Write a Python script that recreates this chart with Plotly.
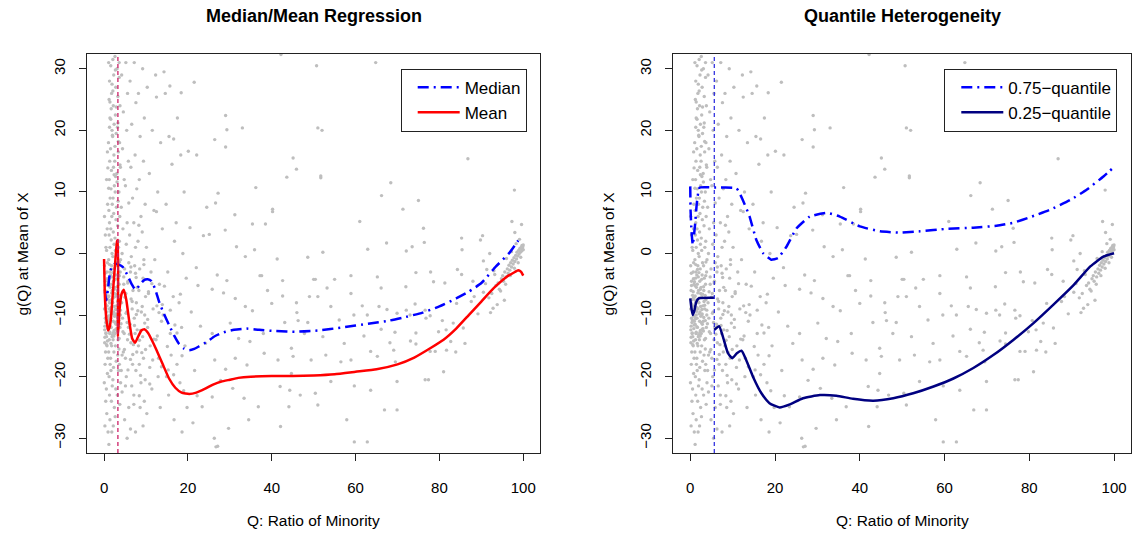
import plotly.graph_objects as go

# ---------------- data ----------------
# dense part of the point cloud near small Q (bands of x)
band_x_0 = [0.1,0.3,0.2,0.4,0.1,0.3,0.2,0.45,0.15,0.35,0.25,0.05,0.4,0.2,0.3,0.1,0.45,0.25,0.35,0.15]
band_y_0 = [-2,-4.5,-6,-7.5,-9,-10.5,-11.8,-13,-14.5,-16,-18,-21,-24,-28,3,6,1,-3.2,-8.2,-12.4]
band_x_1 = [0.6,0.8,0.7,0.9,0.55,0.75,0.65,0.95,0.85,0.6,0.7,0.9,0.8,0.55,0.65,0.95,0.75,0.85,0.6,0.7,0.9]
band_y_1 = [0.5,-1.5,-3,-5,-6.8,-8.5,-9.5,-11,-12.2,-13.5,-15,-17,-19.5,-22,-26,-29,4,8,12,-7.3,-10.2]
band_x_2 = [1.1,1.3,1.2,1.4,1.05,1.35,1.25,1.45,1.15,1.3,1.2,1.4,1.1,1.35,1.25,1.45,1.05,1.3,1.2,1.4,1.15,1.35,1.25,1.1,1.45,1.2,1.3,1.4,1.15]
band_y_2 = [31,28,25,22,18,15,12,9,7,5,3,1,-1,-3,-4,-5.5,-7,-8,-9,-10,-11.5,-13,-14,-16,-18,-20,-23,-27,-31]
band_x_3 = [1.6,1.8,1.7,1.9,1.55,1.75,1.65,1.95,1.85,1.6,1.7,1.9,1.8,1.55,1.65,1.95,1.75,1.85,1.6,1.7,1.9,1.8,1.55,1.65,1.95,1.75,1.85]
band_y_3 = [30.5,26,23.5,20,17,13.5,10.5,8,6,4,2.2,0,-2,-3.5,-5,-6,-7.5,-9,-10.5,-12,-13.5,-15,-17,-19,-21.5,-24,-29]
band_x_4 = [2.1,2.3,2.2,2.4,2.05,2.35,2.25,2.45,2.15,2.3,2.2,2.4,2.1,2.35,2.25,2.45,2.05,2.3,2.2,2.4,2.15,2.35,2.25,2.1,2.45,2.2]
band_y_4 = [31.5,29,24,21,19,16,14,11,9,6.5,3.5,1.5,-0.5,-2.5,-4.5,-6.5,-8,-9.5,-11,-12.5,-14,-16,-18.5,-20.5,-25,-28]
band_x_5 = [2.6,2.8,2.7,2.9,2.55,2.75,2.65,2.95,2.85,2.6,2.7,2.9,2.8,2.55,2.65,2.95,2.75,2.85,2.6,2.7,2.9,2.8,2.65]
band_y_5 = [32,27,22.5,19.5,15,12.5,10,7.5,5.5,2.5,0.5,-1.5,-3.5,-5.5,-7,-8.5,-10,-11.5,-13,-15,-17.5,-22,-26.5]
band_x_6 = [3.1,3.3,3.2,3.4,3.05,3.35,3.25,3.45,3.15,3.3,3.2,3.4,3.1,3.35,3.25,3.45,3.15]
band_y_6 = [30,25.5,20.5,16.5,13,8.5,4.5,1,-2,-4,-6,-9,-11,-14,-16.5,-19,-23]
band_x_7 = [3.6,3.8,3.7,3.9,3.55,3.75,3.65,3.95,3.85,3.6,3.7,3.9,3.8,3.55,3.65,3.95,3.75]
band_y_7 = [31,24,18,14,10,6,2,-1,-3,-5,-7.5,-10,-12,-15.5,-18,-21,-24.5]
band_x_8 = [4.2,4.6,4.4,4.8,4.1,4.5,4.3,4.9,4.7,4.2,4.4,4.8,4.6,4.1,4.3,4.9]
band_y_8 = [29,23,17,12,7.5,4,0,-2.5,-5,-8,-10.5,-13,-16,-19,-22.5,-27]
band_x_9 = [5.2,5.6,5.4,5.8,5.1,5.5,5.3,5.9,5.7,5.2,5.4,5.8,5.6,5.1,5.3,5.9,5.5]
band_y_9 = [31,26,20,15,11,5,1.5,-1.5,-4.5,-6.5,-9.5,-12,-14,-17,-20,-25,-30]
band_x_10 = [6.2,6.6,6.4,6.8,6.1,6.5,6.3,6.9,6.7,6.2,6.4,6.8,6.6,6.3]
band_y_10 = [28,21,14,9,3,-0.5,-3,-6,-9,-11.5,-14.5,-18,-21.5,-28.5]
band_x_11 = [7.2,7.6,7.4,7.8,7.1,7.5,7.3,7.9,7.7,7.2,7.4,7.8,7.6,7.1,7.5]
band_y_11 = [31,24.5,16,10.5,5,1,-2,-5.5,-8,-10.5,-13,-16,-19,-23,-29]
band_x_12 = [8.2,8.6,8.4,8.8,8.1,8.5,8.3,8.9,8.7,8.2,8.4,8.8,8.6]
band_y_12 = [26,19,12,6,2,-2.5,-6,-9.5,-12.5,-15,-18,-21,-25]
band_x_13 = [9.2,9.6,9.4,9.8,9.1,9.5,9.3,9.9,9.7,9.2,9.4,9.8,9.6,9.3]
band_y_13 = [30,22,15,8,3.5,-1,-4,-7,-10,-13.5,-17,-20.5,-24,-28]
band_x_14 = [10.3,11.5,10.8,11.9,10.1,11.2,10.6,11.7,10.4,11.0,10.9,11.4,10.2]
band_y_14 = [27,20,13,7,1,-3,-6.5,-9,-12,-15,-18.5,-22,-26]
band_x_15 = [12.3,13.5,12.8,13.9,12.1,13.2,12.6,13.7,12.4,13.0,12.9,13.4]
band_y_15 = [29,18,10,4,-1,-5,-8.5,-11,-14,-17,-20,-25]
band_x_16 = [14.3,14.6,15.5,16.2,14.8,16.8,15.2,16.5,14.1,15.8,16.0,14.9,15.4,16.7]
band_y_16 = [29.5,26,19,14.5,8,2,-3,-7,-10,-13,-16.5,-20,-23,-27]
band_x_17 = [17.5,18.3,19.1,17.2,18.8,19.6,17.9,18.5,19.3,17.4,18.1,19.8,18.6]
band_y_17 = [22,16,10,5,0,-4,-8,-12,-15,-18,-21,-25,-29]
core_x = [0.3,0.7,1.2,1.6,2.1,2.6,3.1,3.6,0.5,0.9,1.4,1.9,2.4,2.9,3.4,3.9,0.2,0.8,1.3,1.7,2.2,2.7,3.2,3.7,0.4,1.0,1.5,2.0,2.5,3.0,3.5,0.6,1.1,1.8,2.3,2.8]
core_y = [-5.2,-6.2,-7.6,-8.8,-9.8,-11.2,-12.6,-13.8,-10.8,-11.6,-12.8,-3.8,-5.8,-6.6,-8.4,-9.2,-13.6,-14.2,-1.8,-2.6,-7.2,-4.2,-10.4,-1.4,-11.2,-4.6,-9.4,-13.2,-10.2,-12.2,-6.8,-14.8,-5.2,-6.4,-12.8,-9.8]
core2_x = [0.35,0.75,1.15,1.55,1.95,2.35,2.75,3.15,3.55,0.45,0.85,1.25,1.65,2.05,2.45,2.85,3.25,3.65,4.05,4.45,4.85,5.25,5.65,6.05,6.45,6.85,7.25,7.65,8.05,8.45]
core2_y = [-8.9,-4.1,-6.9,-11.9,-7.9,-13.4,-9.1,-5.4,-10.9,-12.9,-7.1,-10.6,-14.6,-3.1,-8.6,-12.3,-7.8,-3.6,-11.4,-6.2,-15.6,-9.7,-4.8,-13.1,-7.4,-16.4,-11.7,-3.9,-9.3,-14.1]
core3_x = [4.3,4.7,5.1,5.5,5.9,6.3,6.7,7.1,7.5,7.9,8.3,8.7,9.1,9.5,9.9,10.4,10.9,11.4,11.9,12.5,13.1,13.7,14.4,15.1,15.8,16.6,17.4,18.2,19.0,4.5,5.0,5.7,6.4,7.0,7.7,8.4,9.0,9.7,10.6,11.6,12.7,13.9,15.3,16.9,18.6]
core3_y = [-16.5,-3.8,-21.5,-11.2,8.2,-17.2,-7.8,-24.5,-3.2,-12.4,4.6,-19.8,-8.6,-1.8,-15.6,-10.7,-21.2,-4.9,-13.9,6.8,-9.6,-18.4,-5.3,-15.1,-9.2,-19.7,-12.9,-6.6,-22.3,-12.7,-7.1,-18.9,-2.2,-14.8,-9.9,-23.1,-16.1,-11.3,-6.2,-17.3,-13.4,-8.3,-18.9,-11.6,-16.6]
core4_x = [0.8,1.3,1.9,2.4,2.9,3.4,3.8,1.1,1.6,2.1,2.6,3.1,3.6,0.9,1.4,2.0,2.7,3.3]
core4_y = [16.5,20.5,27.5,12.8,23.8,18.2,14.4,10.6,21.8,26.4,17.4,11.6,28.6,13.9,24.6,19.2,29.8,21.2]

# sparse part of the cloud (Q, g)
cloud_sparse = [
    (42.2,32.3),(50.7,30.5),(64.8,31.0),(21.5,27.8),(18.4,26.1),(12.5,25.4),(15.7,27.2),(29.0,22.4),
    (29.3,20.1),(33.0,20.4),(51.0,20.4),(52.0,20.0),(26.4,18.5),(29.0,17.3),(20.1,16.6),(22.1,16.0),
    (16.6,18.6),(45.1,15.5),(45.9,13.7),(43.6,12.4),(51.7,12.6),(51.7,12.3),(86.8,15.4),(68.4,11.5),
    (36.2,10.7),(66.2,9.4),(75.0,8.6),(27.2,9.8),(26.6,8.2),(31.2,6.3),(40.2,7.2),(40.2,6.8),
    (71.3,7.2),(97.9,10.3),(97.3,5.2),(99.6,4.7),(61.0,5.2),(38.5,4.8),(35.4,4.8),(28.9,3.8),
    (23.7,2.9),(25.1,3.1),(76.2,4.1),(90.3,2.9),(85.3,2.5),(67.4,1.7),(76.4,1.8),(31.6,1.1),
    (35.9,0.6),(52.2,0.2),(62.9,0.7),(72.1,0.4),(73.5,1.1),(85.4,0.6),(89.8,2.2),(41.3,-0.9),
    (48.6,-0.6),(33.7,-0.5),(22.0,-2.3),(37.2,-3.6),(37.6,-3.6),(50.0,-4.2),(50.4,-4.2),(55.0,-4.2),
    (58.9,-3.6),(65.2,-3.8),(74.4,-3.1),(77.9,-3.0),(84.3,-2.6),(85.3,-3.4),(92.0,0.0),(91.3,-2.6),
    (27.0,-3.5),(29.3,-4.4),(42.6,-4.4),(53.2,-5.6),(66.1,-5.6),(72.0,-5.4),(78.6,-4.6),(81.3,-4.8),
    (88.3,-7.0),(84.1,-8.1),(87.6,-7.8),(31.3,-7.3),(28.5,-6.4),(25.8,-5.8),(22.4,-5.2),(39.0,-6.0),
    (40.0,-8.1),(42.6,-6.9),(45.9,-8.0),(49.0,-7.0),(51.0,-7.0),(54.1,-8.6),(58.9,-6.5),(61.6,-8.5),
    (65.6,-8.6),(67.5,-9.1),(72.1,-9.2),(74.2,-8.2),(76.8,-10.5),(77.8,-10.1),(80.7,-10.9),(83.3,-11.3),
    (81.6,-12.4),(85.7,-12.1),(73.0,-10.0),(76.6,-9.2),(33.7,-8.6),(35.4,-9.3),(46.0,-9.6),(46.3,-10.9),
    (43.1,-11.2),(48.6,-11.2),(56.1,-10.8),(59.6,-10.0),(62.8,-10.0),(69.9,-9.7),(66.1,-12.3),(69.4,-12.8),
    (74.4,-12.9),(79.8,-12.7),(82.7,-14.3),(81.7,-15.7),(79.0,-15.9),(74.4,-14.7),(73.1,-14.2),(69.1,-15.7),
    (68.2,-14.5),(62.0,-13.4),(57.3,-14.6),(52.2,-13.5),(47.8,-13.0),(44.7,-15.4),(38.0,-13.0),(34.8,-14.3),
    (32.1,-13.8),(30.1,-11.3),(25.8,-13.0),(24.2,-14.6),(26.4,-17.3),(29.0,-18.8),(31.3,-17.0),(34.1,-18.1),
    (38.2,-16.2),(41.5,-17.3),(45.1,-16.7),(49.4,-17.3),(52.9,-16.5),(56.5,-17.6),(58.9,-17.3),(63.6,-15.9),
    (65.2,-16.7),(69.5,-17.6),(69.9,-20.8),(76.6,-20.5),(77.4,-20.5),(81.0,-19.2),(77.8,-15.9),(59.7,-21.5),
    (54.1,-20.8),(50.4,-22.7),(44.3,-22.2),(42.0,-21.6),(33.4,-23.5),(30.7,-21.9),(27.8,-20.6),(25.8,-23.3),
    (22.2,-23.1),(23.4,-24.9),(29.7,-28.4),(34.5,-27.0),(36.8,-24.9),(42.1,-28.1),(44.1,-24.9),(46.8,-23.0),
    (51.0,-24.6),(57.9,-27.0),(59.7,-30.6),(62.8,-30.6),(66.9,-25.4),(69.9,-25.4),(26.3,-30.0),(26.7,-31.4),
    (27.1,-31.3),(63.6,-22.2),(44.7,-19.5),(88.0,-4.5),(90.5,-1.2),(93.0,-2.8),(89.2,-9.8),(92.8,-8.9),
    (86.1,-14.6),(83.9,-16.0),(20.8,-9.5),(21.6,-19.0),(23.0,-11.8),(24.5,7.5),(20.5,4.2),(21.2,-27.5),
]

# tight cluster of points near Q = 100
cloud_tail = [
    (93.5,-5.2),(94.0,-4.8),(94.3,-5.8),(94.8,-4.1),(95.1,-3.6),(95.3,-4.5),(95.6,-3.0),(95.9,-3.8),
    (96.2,-2.5),(96.4,-3.2),(96.6,-1.9),(96.8,-2.7),(97.0,-1.5),(97.2,-2.2),(97.4,-1.1),(97.6,-1.7),
    (97.8,-0.7),(98.0,-1.3),(98.2,-0.3),(98.4,-0.9),(98.5,0.2),(98.7,-0.4),(98.9,0.5),(99.0,-0.1),
    (99.2,0.8),(99.3,0.2),(99.5,1.0),(99.6,0.4),(99.7,1.3),(99.8,0.7),(99.9,1.1),(100.0,0.6),
    (100.0,1.4),(99.4,-0.6),(98.8,-1.5),(97.9,-2.4),(96.9,-3.6),(95.8,-5.0),(94.6,-6.1),(93.2,-3.4),
    (92.5,-6.5),(91.8,-7.2),(91.0,-4.9),(90.5,-6.3),(96.0,-0.8),(97.2,0.3),(98.3,1.6),(99.1,2.3),
    (98.0,3.4),(95.5,-7.6),(93.8,-8.3),(92.2,-9.6),
]

# fitted curves
median_x = [0.2,0.5,0.9,1.3,1.8,2.5,3.5,4.5,5.7,6.6,7.5,8.4,9.4,10.4,11.3,12.2,13.2,14.3,15.5,16.7,
            17.9,19.0,20.3,21.5,22.6,24.6,26.5,28.6,31.0,34.0,37.0,41.0,46.0,51.0,57.0,63.0,68.0,72.0,
            76.0,80.0,84.0,87.0,90.0,93.5,96.7,98.8]
median_y = [-6.2,-7.6,-6.0,-3.6,-2.2,-1.7,-1.8,-2.2,-3.7,-5.0,-5.9,-5.2,-4.4,-4.2,-4.5,-5.8,-8.0,-9.8,
            -11.6,-13.3,-14.7,-15.4,-15.7,-15.5,-15.1,-14.3,-13.4,-12.8,-12.4,-12.2,-12.4,-12.6,-12.7,
            -12.5,-12.0,-11.4,-10.9,-10.3,-9.6,-8.6,-7.3,-6.2,-4.8,-2.1,0.1,2.1]
mean_x = [0.0,0.17,0.48,0.95,1.3,1.6,2.1,2.65,3.1,3.3,3.3,3.7,4.2,4.7,5.3,6.0,6.7,7.4,8.2,8.9,
          9.6,10.5,11.5,12.4,14.0,15.5,17.0,18.5,20.3,22.0,24.0,26.0,28.0,30.0,32.0,35.0,40.0,45.0,
          50.0,55.0,60.0,65.0,70.0,74.0,78.0,81.0,84.0,87.0,90.0,93.0,96.0,98.0,98.8,99.5,100.0]
mean_y = [-0.9,-6.4,-10.2,-12.5,-12.0,-10.8,-6.4,-1.5,2.0,2.2,-13.5,-9.0,-6.5,-5.9,-7.5,-11.0,-13.8,
          -14.5,-13.4,-12.5,-12.3,-12.9,-14.2,-15.5,-18.0,-20.3,-21.8,-22.6,-22.8,-22.6,-22.0,-21.3,
          -20.8,-20.5,-20.2,-20.0,-19.9,-19.9,-19.8,-19.6,-19.2,-18.8,-18.0,-16.9,-15.3,-14.0,-12.2,
          -10.0,-7.8,-5.6,-3.8,-3.0,-2.7,-3.0,-3.6]
q75_x = [0.0,0.07,0.3,0.6,1.1,1.56,2.2,5.67,10.9,12.4,14.0,15.6,17.2,19.1,20.7,22.7,25.1,28.2,32.2,
         35.3,40.0,44.8,49.5,54.2,60.5,66.8,72.3,76.3,80.2,84.9,89.7,93.6,97.5,100.0]
q75_y = [10.9,7.1,3.6,1.4,4.4,8.2,10.7,10.7,10.6,8.7,6.0,2.2,0.05,-1.0,-0.75,1.1,4.1,6.0,6.6,
         6.0,4.4,3.6,3.4,3.6,4.0,4.2,4.5,5.0,5.9,7.1,8.7,10.4,12.5,14.05]
q25_left_x = [0.0,0.3,0.6,1.0,1.4,2.0,5.67]
q25_left_y = [-7.3,-9.0,-10.0,-9.2,-7.9,-7.3,-7.2]
q25_right_x = [5.67,6.8,7.7,8.9,9.9,11.0,12.1,13.2,14.8,16.8,18.7,21.1,23.5,26.6,30.6,34.5,38.4,43.2,
               47.9,52.6,57.4,62.1,66.8,71.5,76.3,81.0,85.7,90.5,94.4,97.5,100.0]
q25_right_y = [-12.4,-11.8,-13.5,-16.2,-17.0,-16.2,-15.8,-17.3,-20.0,-22.7,-24.3,-25.0,-24.5,-23.5,
               -23.0,-23.1,-23.6,-23.9,-23.5,-22.7,-21.6,-20.3,-18.6,-16.5,-14.0,-11.3,-8.3,-5.1,
               -2.1,-0.5,0.05]

threshold_left = 3.3
threshold_right = 5.67

x_ticks = [0, 20, 40, 60, 80, 100]
y_ticks = [-30, -20, -10, 0, 10, 20, 30]

# ---------------- assemble cloud ----------------
bands_x = [band_x_0, band_x_1, band_x_2, band_x_3, band_x_4, band_x_5, band_x_6, band_x_7, band_x_8,
           band_x_9, band_x_10, band_x_11, band_x_12, band_x_13, band_x_14, band_x_15, band_x_16,
           band_x_17, core_x, core2_x, core3_x, core4_x]
bands_y = [band_y_0, band_y_1, band_y_2, band_y_3, band_y_4, band_y_5, band_y_6, band_y_7, band_y_8,
           band_y_9, band_y_10, band_y_11, band_y_12, band_y_13, band_y_14, band_y_15, band_y_16,
           band_y_17, core_y, core2_y, core3_y, core4_y]
cloud_x, cloud_y = [], []
for bx, by in zip(bands_x, bands_y):
    for a, b in zip(bx, by):
        cloud_x.append(a)
        cloud_y.append(b)
for a, b in cloud_sparse + cloud_tail:
    cloud_x.append(a)
    cloud_y.append(b)

# ---------------- figure ----------------
W, H = 1133, 537
FONT = "Liberation Sans, Arial, Helvetica, sans-serif"
GRAY = "#BEBEBE"
AX = "#222222"
DASHDOT = "11px,5px,2px,5px"

def px_x(p):
    return p / W

def px_y(p):
    return 1 - p / H

fig = go.Figure()

for xa, ya in (("x", "y"), ("x2", "y2")):
    fig.add_trace(go.Scatter(x=cloud_x, y=cloud_y, mode="markers", xaxis=xa, yaxis=ya,
                             marker=dict(size=3.4, color=GRAY, line=dict(width=0)),
                             showlegend=False, hoverinfo="skip"))

fig.add_trace(go.Scatter(x=median_x, y=median_y, mode="lines", name="Median", xaxis="x", yaxis="y",
                         line=dict(color="#0000FF", width=2.5, dash=DASHDOT, shape="spline", smoothing=0.5),
                         legend="legend"))
fig.add_trace(go.Scatter(x=mean_x, y=mean_y, mode="lines", name="Mean", xaxis="x", yaxis="y",
                         line=dict(color="#FF0000", width=2.5, shape="spline", smoothing=0.4),
                         legend="legend"))
fig.add_trace(go.Scatter(x=q75_x, y=q75_y, mode="lines", name="0.75\u2212quantile", xaxis="x2", yaxis="y2",
                         line=dict(color="#0000FF", width=2.5, dash=DASHDOT, shape="spline", smoothing=0.4),
                         legend="legend2"))
fig.add_trace(go.Scatter(x=q25_left_x, y=q25_left_y, mode="lines", name="0.25\u2212quantile",
                         xaxis="x2", yaxis="y2", legendgroup="q25",
                         line=dict(color="#000080", width=2.5, shape="spline", smoothing=0.5),
                         legend="legend2"))
fig.add_trace(go.Scatter(x=q25_right_x, y=q25_right_y, mode="lines", name="0.25\u2212quantile",
                         xaxis="x2", yaxis="y2", legendgroup="q25", showlegend=False,
                         line=dict(color="#000080", width=2.5, shape="spline", smoothing=0.5),
                         legend="legend2"))

fig.add_shape(type="line", xref="x", yref="y domain", x0=threshold_left, x1=threshold_left, y0=0, y1=1,
              line=dict(color="#CC1F66", width=1.3, dash="4px,3px"), layer="above")
fig.add_shape(type="line", xref="x2", yref="y2 domain", x0=threshold_right, x1=threshold_right, y0=0, y1=1,
              line=dict(color="#2222DD", width=1.2, dash="4px,3px"), layer="above")

dom_left = [px_x(87.3), px_x(540.0)]
dom_right = [px_x(673.3), px_x(1131.0)]
dom_y = [px_y(453.0), px_y(54.0)]

xaxis_common = dict(range=[-4, 104], tickmode="array", tickvals=x_ticks, ticktext=[str(t) for t in x_ticks],
                    showgrid=False, zeroline=False, showline=True, mirror=True, linecolor=AX, linewidth=1,
                    ticks="outside", ticklen=7, tickwidth=1, tickcolor=AX,
                    tickfont=dict(family=FONT, size=15, color="#000"), ticklabelstandoff=14)
yaxis_common = dict(range=[-32.4, 32.4], tickmode="array", tickvals=y_ticks,
                    ticktext=[("\u2212" + str(-t)) if t < 0 else str(t) for t in y_ticks],
                    showgrid=False, zeroline=False, showline=True, mirror=True, linecolor=AX, linewidth=1,
                    ticks="outside", ticklen=7, tickwidth=1, tickcolor=AX, tickangle=-90,
                    tickfont=dict(family=FONT, size=15, color="#000"), ticklabelstandoff=8, domain=dom_y)

legend_common = dict(bgcolor="white", bordercolor=AX, borderwidth=1,
                     font=dict(family=FONT, size=17, color="#000"),
                     xanchor="left", yanchor="top", y=px_y(68.7), itemwidth=42, indentation=11,
                     tracegroupgap=0)

fig.update_layout(
    width=W, height=H, margin=dict(l=0, r=0, t=0, b=0), paper_bgcolor="white", plot_bgcolor="white",
    font=dict(family=FONT, color="#000"),
    xaxis=dict(domain=dom_left, anchor="y", **xaxis_common),
    yaxis=dict(anchor="x", **yaxis_common),
    xaxis2=dict(domain=dom_right, anchor="y2", **xaxis_common),
    yaxis2=dict(anchor="x2", **yaxis_common),
    showlegend=True,
    legend=dict(x=px_x(400.7), **legend_common),
    legend2=dict(x=px_x(944.3), **legend_common),
)

annots = [
    dict(text="<b>Median/Mean Regression</b>", x=(dom_left[0] + dom_left[1]) / 2, y=px_y(16), size=18),
    dict(text="<b>Quantile Heterogeneity</b>", x=(dom_right[0] + dom_right[1]) / 2, y=px_y(16), size=18),
    dict(text="Q: Ratio of Minority", x=(dom_left[0] + dom_left[1]) / 2, y=px_y(520), size=15.5),
    dict(text="Q: Ratio of Minority", x=(dom_right[0] + dom_right[1]) / 2, y=px_y(520), size=15.5),
]
for a in annots:
    fig.add_annotation(text=a["text"], x=a["x"], y=a["y"], xref="paper", yref="paper", showarrow=False,
                       xanchor="center", yanchor="middle", font=dict(family=FONT, size=a["size"], color="#000"))
for xp in (22, 608):
    fig.add_annotation(text="g(Q) at Mean of X", x=px_x(xp), y=(dom_y[0] + dom_y[1]) / 2, xref="paper",
                       yref="paper", showarrow=False, textangle=-90, xanchor="center", yanchor="middle",
                       font=dict(family=FONT, size=15.5, color="#000"))

fig.write_html("out.html", post_script="document.body.style.margin='0';",
               config={"displayModeBar": False})
